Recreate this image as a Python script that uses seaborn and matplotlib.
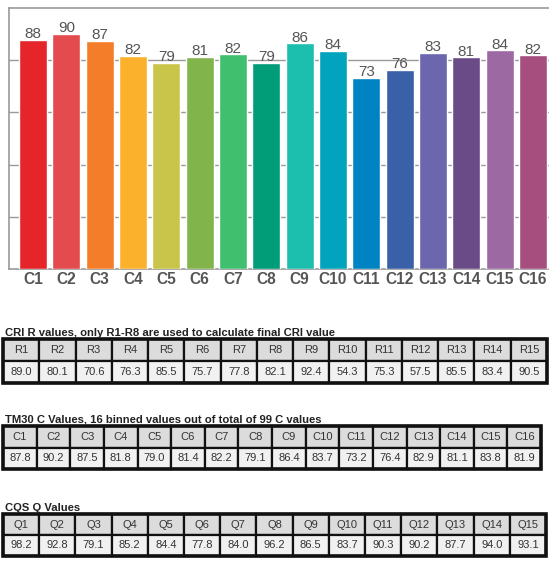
import numpy as np
import pandas as pd
import seaborn as sns
import matplotlib.pyplot as plt
from matplotlib.patches import Rectangle

# TM30 binned C values (chart + table)
c_labels = ["C1", "C2", "C3", "C4", "C5", "C6", "C7", "C8",
            "C9", "C10", "C11", "C12", "C13", "C14", "C15", "C16"]
c_values = [87.8, 90.2, 87.5, 81.8, 79.0, 81.4, 82.2, 79.1,
            86.4, 83.7, 73.2, 76.4, 82.9, 81.1, 83.8, 81.9]
# rounded numbers printed above the bars
c_bar_text = [88, 90, 87, 82, 79, 81, 82, 79, 86, 84, 73, 76, 83, 81, 84, 82]

r_labels = ["R%d" % i for i in range(1, 16)]
r_values = [89.0, 80.1, 70.6, 76.3, 85.5, 75.7, 77.8, 82.1,
            92.4, 54.3, 75.3, 57.5, 85.5, 83.4, 90.5]

q_labels = ["Q%d" % i for i in range(1, 16)]
q_values = [98.2, 92.8, 79.1, 85.2, 84.4, 77.8, 84.0, 96.2,
            86.5, 83.7, 90.3, 90.2, 87.7, 94.0, 93.1]

bar_colors = ["#e5252a", "#e34b4f", "#f47d2a", "#fbb12b", "#c9c54b", "#81b54c",
              "#40bf6e", "#019c78", "#1cbfae", "#02a3bc", "#0083c2", "#3a60a8",
              "#6b66ad", "#6a4b87", "#9c69a3", "#a64f7f"]

sns.set_theme(style="white")
plt.rcParams["font.family"] = ["Liberation Sans", "DejaVu Sans"]

W, H = 549, 566
fig = plt.figure(figsize=(W / 100, H / 100), dpi=100)


def box(l, t, r, b):
    return [l / W, 1 - b / H, (r - l) / W, (b - t) / H]


# ---- bar chart ----
ax = fig.add_axes(box(9, 8, 549, 269))
df = pd.DataFrame({"bin": c_labels, "value": c_values})
sns.barplot(data=df, x="bin", y="value", hue="bin", palette=bar_colors,
            legend=False, width=0.84, saturation=1, ax=ax, zorder=3)
ax.set_xlim(-0.72, 15.48)
ax.set_ylim(0, 100)
ax.set_yticks([20, 40, 60, 80])
ax.yaxis.grid(True, color="#9a9a9a", linewidth=1, zorder=0)
ax.set_yticklabels([])
ax.set_xlabel("")
ax.set_ylabel("")
ax.tick_params(axis="both", length=0)
ax.tick_params(axis="x", pad=2)
for lab in ax.get_xticklabels():
    lab.set_fontsize(11.2)
    lab.set_fontweight("bold")
    lab.set_color("#555555")
for s in ["left", "top", "bottom"]:
    ax.spines[s].set_color("#9a9a9a")
    ax.spines[s].set_linewidth(1.2)
ax.spines["right"].set_visible(False)

for i, v in enumerate(c_values):
    ax.annotate(str(c_bar_text[i]), (i, v), xytext=(0, 1.2), textcoords="offset points",
                ha="center", va="baseline", fontsize=11, color="#555555", zorder=4)


# ---- tables ----
def draw_table(title, labels, values, l, t, r, b):
    fig.text(5 / W, 1 - (t - 6) / H, title, fontsize=8.1, fontweight="bold",
             color="#222222", ha="left", va="center")
    tax = fig.add_axes(box(l, t, r, b))
    tax.axis("off")
    cells = [labels, ["%.1f" % v for v in values]]
    tbl = tax.table(cellText=cells, cellLoc="center", bbox=[0, 0, 1, 1])
    tbl.auto_set_font_size(False)
    tbl.set_fontsize(8)
    for (row, col), cell in tbl.get_celld().items():
        cell.set_edgecolor("#111111")
        cell.set_linewidth(1.6)
        cell.set_facecolor("#dcdcdc" if row == 0 else "#f1f1f1")
        cell.get_text().set_color("#333333")
    tax.add_patch(Rectangle((0, 0), 1, 1, transform=tax.transAxes, fill=False,
                            edgecolor="#111111", linewidth=2.6, clip_on=False))


draw_table("CRI R values, only R1-R8 are used to calculate final CRI value",
           r_labels, r_values, 3, 339, 547, 383)
draw_table("TM30 C Values, 16 binned values out of total of 99 C values",
           c_labels, c_values, 3, 426, 541, 469)
draw_table("CQS Q Values", q_labels, q_values, 3, 514, 546, 556)

fig.savefig("out.png", dpi=100)
